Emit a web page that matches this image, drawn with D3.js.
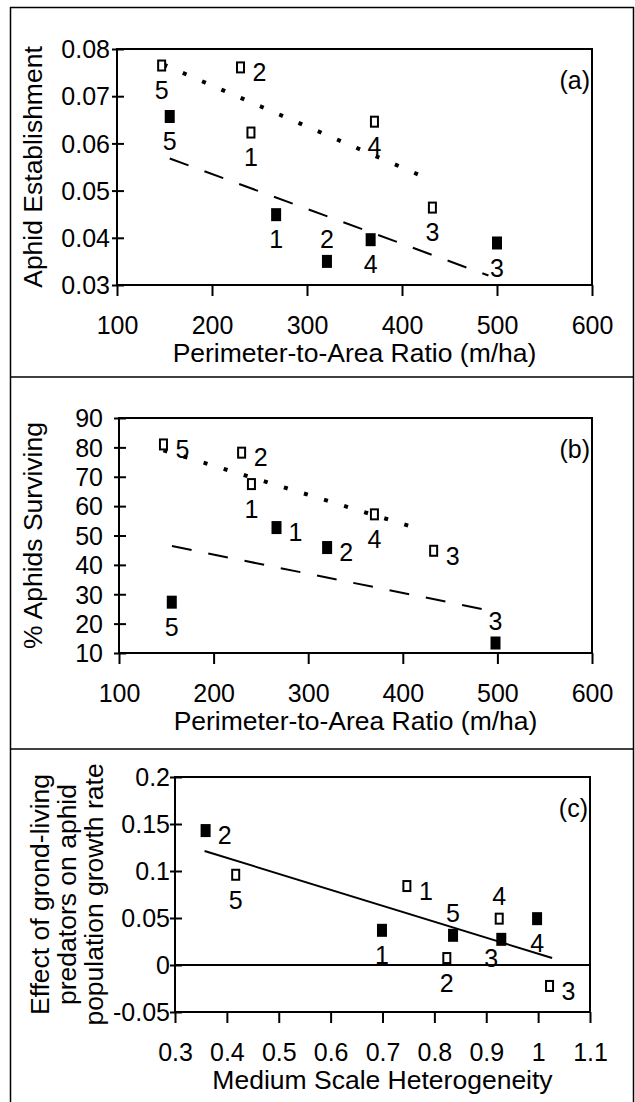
<!DOCTYPE html>
<html>
<head>
<meta charset="utf-8">
<script src="https://cdn.jsdelivr.net/npm/d3@7"></script>
<style>
  body { margin: 0; background: #fff; }
  text { font-family: "Liberation Sans", Arial, sans-serif; fill: #000; }
</style>
</head>
<body>
<svg id="chart" width="635" height="1102"></svg>
<script>
// point ids, in the order of the arrays below
const ids = ["1", "2", "3", "4", "5"];

// (a) aphid establishment vs perimeter-to-area ratio
const aOpenX = [241, 230, 432, 371, 147];
const aOpenY = [0.0623, 0.0761, 0.0464, 0.0646, 0.0765];
const aFillX = [267.5, 321, 500, 367, 155.5];
const aFillY = [0.0449, 0.0350, 0.0389, 0.0396, 0.0657];
const aDotX = [149, 423], aDotY = [0.0767, 0.0529];
const aDashX = [155.5, 491], aDashY = [0.0568, 0.0320];
const aXTicks = [100, 200, 300, 400, 500, 600];
const aYTicks = [0.03, 0.04, 0.05, 0.06, 0.07, 0.08];

// (b) % aphids surviving vs perimeter-to-area ratio (no filled point 4)
const bOpenX = [240, 229.6, 432.6, 370, 147];
const bOpenY = [67.5, 78.2, 44.8, 57.2, 81.0];
const bFillIds = ["1", "2", "3", "5"];
const bFillX = [266.5, 320, 498, 155.8];
const bFillY = [52.7, 45.9, 13.4, 27.3];
const bDotX = [147, 420.6], bDotY = [79.0, 51.9];
const bDashX = [156, 492.7], bDashY = [46.4, 24.4];
const bXTicks = [100, 200, 300, 400, 500, 600];
const bYTicks = [10, 20, 30, 40, 50, 60, 70, 80, 90];

// (c) effect of ground-living predators vs medium scale heterogeneity
const cOpenX = [0.747, 0.824, 1.022, 0.925, 0.417];
const cOpenY = [0.084, 0.0074, -0.0223, 0.0493, 0.096];
const cFillX = [0.699, 0.359, 0.929, 0.998, 0.836];
const cFillY = [0.0369, 0.143, 0.0273, 0.0493, 0.0316];
const cLineX = [0.357, 1.027], cLineY = [0.1213, 0.0074];
const cXTicks = [0.3, 0.4, 0.5, 0.6, 0.7, 0.8, 0.9, 1.0, 1.1];
const cYTicks = [-0.05, 0, 0.05, 0.1, 0.15, 0.2];

// where each point's number sits: b=below, r=right, a=above, bl=below-left
const labelOffset = { b: [0, 25], r: [19, 5], a: [0, -22], bl: [-10, 19] };

const svg = d3.select("#chart");
const FS = 25;      // tick labels, point numbers
const TFS = 26.5;   // axis titles

// outer frame and separators
const frame = svg.append("g").attr("stroke", "#000").attr("stroke-width", 1.5);
frame.append("line").attr("x1", 10.5).attr("x2", 10.5).attr("y1", 7).attr("y2", 1102);
frame.append("line").attr("x1", 633.5).attr("x2", 633.5).attr("y1", 7).attr("y2", 1102);
frame.append("line").attr("x1", 10).attr("x2", 634).attr("y1", 7.5).attr("y2", 7.5);
frame.append("line").attr("x1", 10).attr("x2", 634).attr("y1", 377).attr("y2", 377);
frame.append("line").attr("x1", 10).attr("x2", 634).attr("y1", 749).attr("y2", 749);

function toPoints(idList, xs, ys, places) {
  return xs.map((v, i) => ({ id: idList[i], x: v, y: ys[i], place: places[i] }));
}

function drawPanel(cfg) {
  const x = d3.scaleLinear().domain(cfg.xDomain).range([cfg.left, cfg.right]);
  const y = d3.scaleLinear().domain(cfg.yDomain).range([cfg.bottom, cfg.top]);
  const g = svg.append("g");

  // x axis (ticks hang below the box)
  const xa = g.append("g")
    .attr("transform", `translate(0,${cfg.bottom})`)
    .call(d3.axisBottom(x).tickValues(cfg.xTicks).tickSizeInner(11).tickSizeOuter(0).tickFormat(cfg.xFormat));
  xa.select(".domain").remove();
  xa.selectAll(".tick line").attr("stroke", "#000").attr("stroke-width", 2);
  xa.selectAll(".tick text").attr("y", 40).attr("dy", "0.35em").style("font-size", FS + "px");

  // y axis (ticks cross the axis)
  const ya = g.append("g")
    .attr("transform", `translate(${cfg.left},0)`)
    .call(d3.axisLeft(y).tickValues(cfg.yTicks).tickSizeInner(5).tickSizeOuter(0).tickFormat(cfg.yFormat));
  ya.select(".domain").remove();
  ya.selectAll(".tick line").attr("x1", 7).attr("x2", -5).attr("stroke", "#000").attr("stroke-width", 2);
  ya.selectAll(".tick text").attr("x", -cfg.labelGap).attr("dy", "0.35em").style("font-size", FS + "px");

  // plot box
  g.append("rect")
    .attr("x", cfg.left).attr("y", cfg.top)
    .attr("width", cfg.right - cfg.left).attr("height", cfg.bottom - cfg.top)
    .attr("fill", "none").attr("stroke", "#000").attr("stroke-width", 2);

  if (cfg.zeroLine) {
    g.append("line")
      .attr("x1", cfg.left).attr("x2", cfg.right)
      .attr("y1", y(0)).attr("y2", y(0))
      .attr("stroke", "#000").attr("stroke-width", 2);
  }

  // trend lines
  const line = d3.line().x(d => x(d[0])).y(d => y(d[1]));
  cfg.lines.forEach(l => {
    g.append("path")
      .attr("d", line(l.xs.map((v, i) => [v, l.ys[i]])))
      .attr("fill", "none").attr("stroke", "#000")
      .attr("stroke-width", l.width)
      .attr("stroke-dasharray", l.dash);
  });

  // markers
  g.selectAll(".fill").data(cfg.filled).enter().append("rect")
    .attr("x", d => x(d.x) - 5).attr("y", d => y(d.y) - 6.5)
    .attr("width", 10).attr("height", 13).attr("fill", "#000");
  g.selectAll(".open").data(cfg.open).enter().append("rect")
    .attr("x", d => x(d.x) - 3.5).attr("y", d => y(d.y) - 5)
    .attr("width", 7).attr("height", 10)
    .attr("fill", "#fff").attr("stroke", "#000").attr("stroke-width", 2);

  // point numbers
  g.selectAll(".lab").data(cfg.open.concat(cfg.filled)).enter().append("text")
    .attr("x", d => x(d.x) + labelOffset[d.place][0])
    .attr("y", d => y(d.y) + labelOffset[d.place][1])
    .attr("dy", "0.35em").attr("text-anchor", "middle")
    .style("font-size", FS + "px")
    .text(d => d.id);

  // panel tag
  g.append("text")
    .attr("x", cfg.right - 2).attr("y", cfg.top + 31).attr("dy", "0.35em")
    .attr("text-anchor", "end").style("font-size", FS + "px")
    .text(cfg.tag);

  // axis titles
  g.append("text")
    .attr("x", (cfg.left + cfg.right) / 2).attr("y", cfg.bottom + 68).attr("dy", "0.35em")
    .attr("text-anchor", "middle").style("font-size", TFS + "px")
    .text(cfg.xTitle);
  cfg.yTitle.forEach((t, i) => {
    g.append("text")
      .attr("transform", `translate(${cfg.yTitleX[i]},${(cfg.top + cfg.bottom) / 2}) rotate(-90)`)
      .attr("dy", "0.35em").attr("text-anchor", "middle").style("font-size", TFS + "px")
      .text(t);
  });
}

const dotted = { width: 4, dash: "4,17" };
const dashed = { width: 2, dash: "20,17" };
const plainNum = d => String(+d.toFixed(2));

drawPanel({
  left: 117, right: 592, top: 49, bottom: 285, labelGap: 7,
  xDomain: [100, 600], yDomain: [0.03, 0.08],
  xTicks: aXTicks, yTicks: aYTicks,
  xFormat: d3.format("d"), yFormat: d3.format(".2f"),
  open: toPoints(ids, aOpenX, aOpenY, ["b", "r", "b", "b", "b"]),
  filled: toPoints(ids, aFillX, aFillY, ["b", "a", "b", "b", "b"]),
  lines: [Object.assign({ xs: aDotX, ys: aDotY }, dotted), Object.assign({ xs: aDashX, ys: aDashY }, dashed)],
  tag: "(a)", xTitle: "Perimeter-to-Area Ratio (m/ha)",
  yTitle: ["Aphid Establishment"], yTitleX: [33]
});

drawPanel({
  left: 119, right: 592, top: 418, bottom: 653, labelGap: 16,
  xDomain: [100, 600], yDomain: [10, 90],
  xTicks: bXTicks, yTicks: bYTicks,
  xFormat: d3.format("d"), yFormat: d3.format("d"),
  open: toPoints(ids, bOpenX, bOpenY, ["b", "r", "r", "b", "r"]),
  filled: toPoints(bFillIds, bFillX, bFillY, ["r", "r", "a", "b"]),
  lines: [Object.assign({ xs: bDotX, ys: bDotY }, dotted), Object.assign({ xs: bDashX, ys: bDashY }, dashed)],
  tag: "(b)", xTitle: "Perimeter-to-Area Ratio (m/ha)",
  yTitle: ["% Aphids Surviving"], yTitleX: [33]
});

drawPanel({
  left: 175, right: 590, top: 777, bottom: 1012, labelGap: 5,
  xDomain: [0.3, 1.1], yDomain: [-0.05, 0.2],
  xTicks: cXTicks, yTicks: cYTicks,
  xFormat: plainNum, yFormat: plainNum,
  open: toPoints(ids, cOpenX, cOpenY, ["r", "b", "r", "a", "b"]),
  filled: toPoints(ids, cFillX, cFillY, ["b", "r", "bl", "b", "a"]),
  lines: [{ xs: cLineX, ys: cLineY, width: 2, dash: null }],
  zeroLine: true,
  tag: "(c)", xTitle: "Medium Scale Heterogeneity",
  yTitle: ["Effect of grond-living", "predators on aphid", "population growth rate"],
  yTitleX: [40, 67, 94]
});
</script>
</body>
</html>
